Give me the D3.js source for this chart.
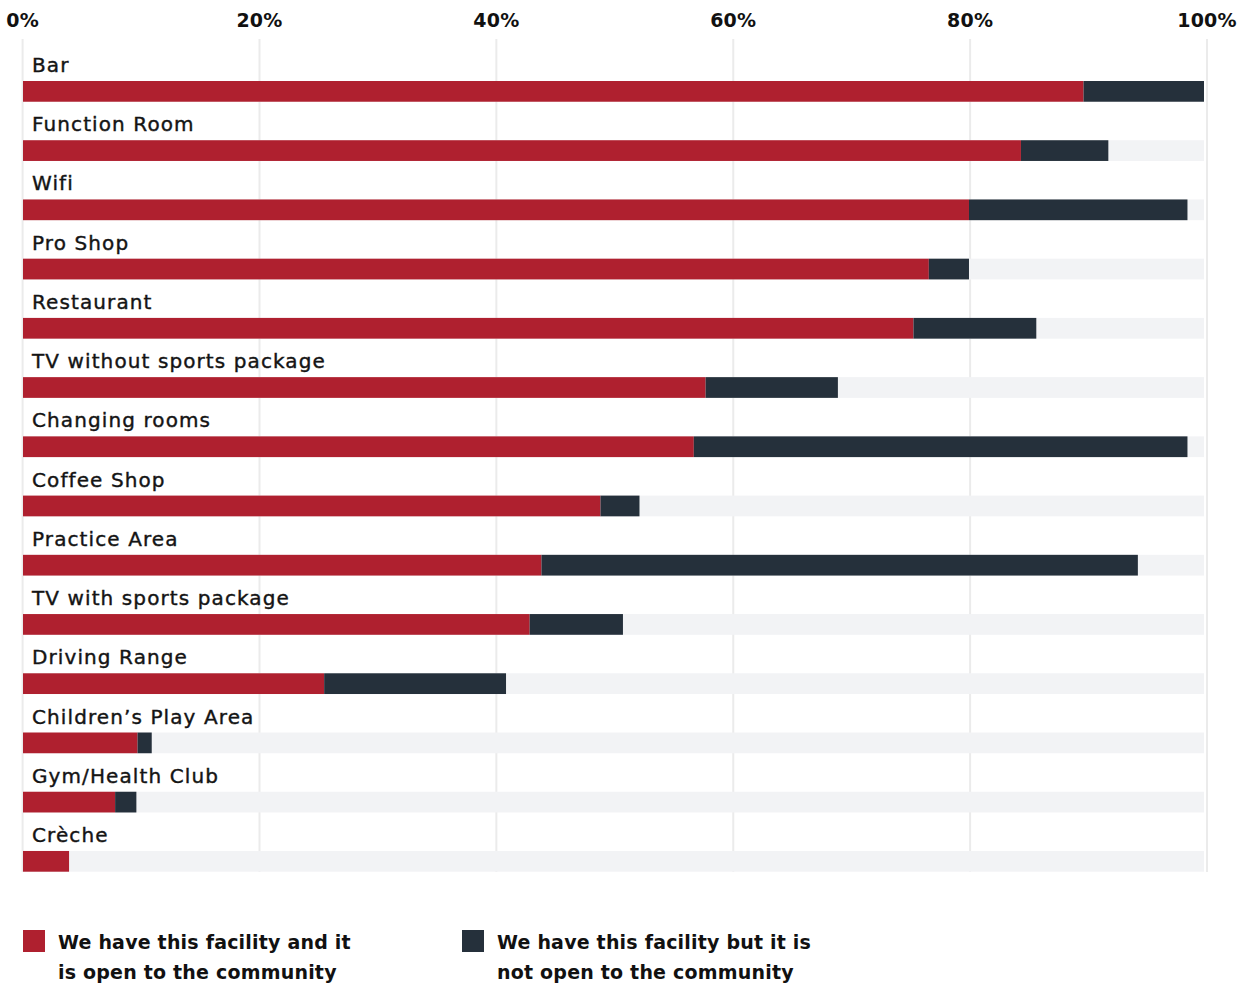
<!DOCTYPE html>
<html>
<head>
<meta charset="utf-8">
<script src="https://cdn.jsdelivr.net/npm/d3@7"></script>
<style>
  html, body { margin: 0; padding: 0; background: #ffffff; }
  svg { display: block; }
  .row-label { font-family: "DejaVu Sans", sans-serif; font-size: 20px; fill: #141414; stroke: #141414; stroke-width: 0.4px; letter-spacing: 1.1px; }
  .tick-label { font-family: "DejaVu Sans", sans-serif; font-weight: bold; font-size: 19px; fill: #111; letter-spacing: 0.2px; }
  .legend-text { font-family: "DejaVu Sans", sans-serif; font-weight: bold; font-size: 19px; fill: #111; letter-spacing: 0.2px; }
</style>
</head>
<body>
<svg id="chart" width="1247" height="985"></svg>
<script>
// Facilities, in the order they are listed
const categories = [
  "Bar", "Function Room", "Wifi", "Pro Shop", "Restaurant",
  "TV without sports package", "Changing rooms", "Coffee Shop",
  "Practice Area", "TV with sports package", "Driving Range",
  "Children\u2019s Play Area", "Gym/Health Club", "Cr\u00e8che"
];
// Share of clubs (%) with the facility open to the community
const openValues = [89.8, 84.5, 80.1, 76.7, 75.4, 57.8, 56.8, 48.9, 43.9, 42.9, 25.5, 9.7, 7.8, 3.9];
// Share of clubs (%) with the facility but not open to the community
const closedValues = [10.2, 7.4, 18.5, 3.4, 10.4, 11.2, 41.8, 3.3, 50.5, 7.9, 15.4, 1.2, 1.8, 0];
const tickValues = [0, 20, 40, 60, 80, 100];
const tickLabels = ["0%", "20%", "40%", "60%", "80%", "100%"];
const legendLines = [
  ["We have this facility and it", "is open to the community"],
  ["We have this facility but it is", "not open to the community"]
];

const colors = { open: "#af202f", closed: "#25303b", track: "#f2f3f5", grid: "#ebebeb" };

const svg = d3.select("#chart");

const x = d3.scaleLinear().domain([0, 100]).range([23, 1204]);
const xGrid = d3.scaleLinear().domain([0, 100]).range([22.6, 1207]);
const y = d3.scaleBand().domain(categories).range([81, 871.7]).paddingInner(0.65).paddingOuter(0);

// Vertical gridlines
svg.append("g").selectAll("line").data(tickValues).join("line")
  .attr("x1", d => xGrid(d)).attr("x2", d => xGrid(d))
  .attr("y1", 39).attr("y2", 872)
  .attr("stroke", colors.grid).attr("stroke-width", 2);

// Percentage labels along the top
svg.append("g").selectAll("text").data(tickValues).join("text")
  .attr("class", "tick-label")
  .attr("x", d => xGrid(d)).attr("y", 27)
  .attr("text-anchor", "middle")
  .text((d, i) => tickLabels[i]);

const rows = svg.append("g").selectAll("g").data(categories).join("g");

// Background track
rows.append("rect")
  .attr("x", x(0)).attr("y", d => y(d))
  .attr("width", x(100) - x(0)).attr("height", y.bandwidth())
  .attr("fill", colors.track);

// Open to the community
rows.append("rect")
  .attr("x", x(0)).attr("y", d => y(d))
  .attr("width", (d, i) => x(openValues[i]) - x(0)).attr("height", y.bandwidth())
  .attr("fill", colors.open);

// Not open to the community
rows.append("rect")
  .attr("x", (d, i) => x(openValues[i])).attr("y", d => y(d))
  .attr("width", (d, i) => x(openValues[i] + closedValues[i]) - x(openValues[i]))
  .attr("height", y.bandwidth())
  .attr("fill", colors.closed);

// Facility names
rows.append("text")
  .attr("class", "row-label")
  .attr("x", 32).attr("y", d => y(d) - 9)
  .text(d => d);

// Legend
const legend = svg.append("g").selectAll("g").data([colors.open, colors.closed]).join("g")
  .attr("transform", (d, i) => `translate(${i === 0 ? 23 : 462},930)`);
legend.append("rect").attr("width", 22).attr("height", 22).attr("fill", d => d);
legend.append("text").attr("class", "legend-text")
  .selectAll("tspan").data((d, i) => legendLines[i]).join("tspan")
  .attr("x", 35).attr("y", (d, j) => 19 + j * 30)
  .text(d => d);
</script>
</body>
</html>
